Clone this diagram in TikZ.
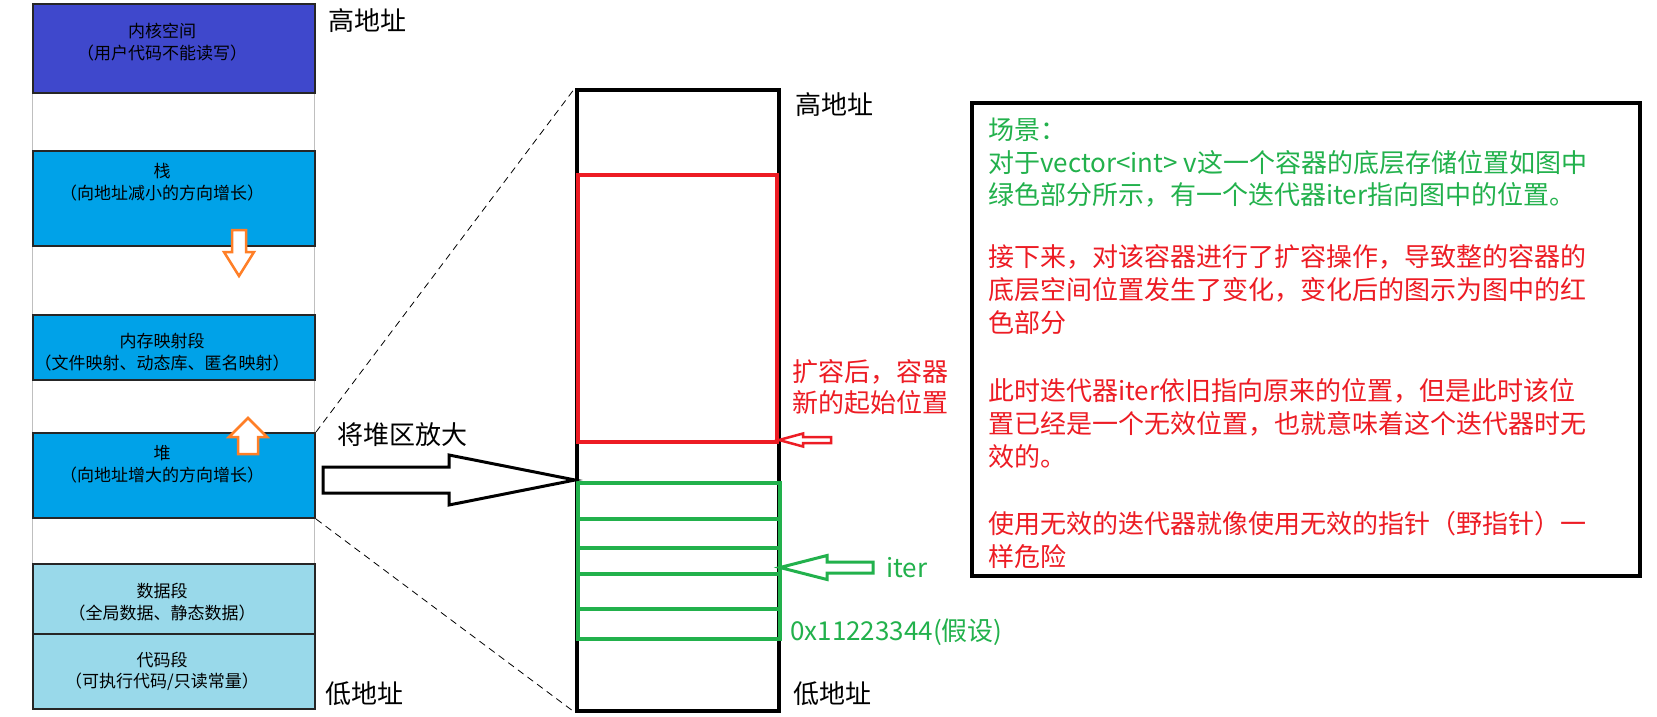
\documentclass[tikz,border=0pt]{standalone}
\usepackage{fontspec}
\setmainfont{Noto Sans CJK SC}
\usepackage{xcolor}
\usetikzlibrary{positioning,calc}
\definecolor{kernelcolor}{RGB}{63,72,204}
\definecolor{segcolor}{RGB}{0,162,232}
\definecolor{datacolor}{RGB}{153,217,234}
\definecolor{growcolor}{RGB}{255,127,39}
\definecolor{newcolor}{RGB}{237,28,36}
\definecolor{oldcolor}{RGB}{34,177,76}

% hollow block arrow: [style]{tail}{tip}{shaft half}{head half}{head length}
\newcommand{\blockarrow}[6][]{%
  \coordinate (ahbase) at ($(#3)!#6!(#2)$);
  \draw[#1] ($(#2)!#4!90:(#3)$) -- ($(ahbase)!#4!90:(#3)$) -- ($(ahbase)!#5!90:(#3)$)
    -- (#3) -- ($(ahbase)!#5!-90:(#3)$) -- ($(ahbase)!#4!-90:(#3)$) -- ($(#2)!#4!-90:(#3)$) -- cycle;
}

\begin{document}
\begin{tikzpicture}[
    x=1pt, y=-1pt,
    seg/.style={
        rectangle, draw=black!85, line width=2pt,
        anchor=north west, inner sep=0pt, minimum width=282pt
    },
    gap/.style={
        rectangle, draw=black!25, line width=1pt, fill=white,
        anchor=north west, inner sep=0pt, minimum width=282pt
    },
    cell/.style={
        rectangle, draw=oldcolor, line width=3.5pt,
        anchor=north west, inner sep=0pt, minimum width=202pt
    },
    seglabel/.style={align=center, inner sep=0pt, font=\fontsize{17}{21.5}\selectfont},
    addr/.style={anchor=west, inner sep=0pt, font=\fontsize{26}{30}\selectfont},
    para/.style={anchor=north west, align=left, inner sep=0pt, font=\fontsize{26}{32.8}\selectfont},
    zoomline/.style={dashed, dash pattern=on 7pt off 5pt, line width=0.8pt},
    growarrow/.style={draw=growcolor, line width=2.5pt, fill=white}
]

\fill[white] (0,0) rectangle (1657,717);
\useasboundingbox (0,0) rectangle (1657,717);

% Process address space
\node[gap, minimum height=58pt] (gap1) at (32,92) {};
\node[gap, minimum height=69pt] (gap2) at (32,245) {};
\node[gap, minimum height=53pt] (gap3) at (32,379) {};
\node[gap, minimum height=46pt] (gap4) at (32,517) {};

\node[seg, fill=kernelcolor, minimum height=89pt] (kernel) at (32,3) {};
\node[seg, fill=segcolor, minimum height=95pt] (stack) at (32,150) {};
\node[seg, fill=segcolor, minimum height=65pt] (mmap) at (32,314) {};
\node[seg, fill=segcolor, minimum height=85pt] (heap) at (32,432) {};
\node[seg, fill=datacolor, minimum height=70pt] (data) at (32,563) {};
\node[seg, fill=datacolor, minimum height=75pt] (code) at (32,633) {};

\node[seglabel] (kernel-text) at (162,42) {内核空间\\（用户代码不能读写）};
\node[seglabel] (stack-text) at (162,182) {栈\\（向地址减小的方向增长）};
\node[seglabel] (mmap-text) at (162,352) {内存映射段\\（文件映射、动态库、匿名映射）};
\node[seglabel] (heap-text) at (162,464) {堆\\（向地址增大的方向增长）};
\node[seglabel] (data-text) at (162,602) {数据段\\（全局数据、静态数据）};
\node[seglabel] (code-text) at (162,671.5) {代码段\\（可执行代码/只读常量）};

% Growth directions
\coordinate (stack-grow-tail) at (239,230);
\coordinate (stack-grow-tip) at (239,276);
\coordinate (heap-grow-tail) at (248,454);
\coordinate (heap-grow-tip) at (248,418);
\blockarrow[growarrow]{stack-grow-tail}{stack-grow-tip}{7pt}{15pt}{24pt}
\blockarrow[growarrow]{heap-grow-tail}{heap-grow-tip}{10pt}{19pt}{19pt}

\node[addr] (high-left) at (328,21) {高地址};
\node[addr] (low-left) at (325,694) {低地址};

% Zoomed heap
\node[rectangle, draw, line width=3.5pt, anchor=north west, inner sep=0pt,
      minimum width=202pt, minimum height=621pt] (zoomcol) at (575,88) {};
\node[rectangle, draw=newcolor, line width=3.5pt, anchor=north west, inner sep=0pt,
      minimum width=199pt, minimum height=267pt] (newblock) at (576,173) {};
\node[cell, minimum height=36pt] (cell1) at (576,481) {};
\node[cell, minimum height=29pt] (cell2) at (576,517) {};
\node[cell, minimum height=26pt] (cell3) at (576,546) {};
\node[cell, minimum height=35pt] (cell4) at (576,572) {};
\node[cell, minimum height=30pt] (cell5) at (576,607) {};

\draw[zoomline] (heap.north east) -- (zoomcol.north west);
\draw[zoomline] (heap.south east) -- (zoomcol.south west);

\node[addr] (zoom-label) at (337,435) {将堆区放大};
\coordinate (zoom-tail) at (323,480);
\coordinate (zoom-tip) at (zoom-tail -| zoomcol.west);
\blockarrow[draw=black, line width=3pt, fill=white]{zoom-tail}{zoom-tip}{13pt}{25pt}{126pt}

\node[addr] (high-right) at (795,105) {高地址};
\node[addr] (low-right) at (793,694) {低地址};

% Markers
\node[addr, anchor=north west, align=left, text=newcolor, font=\fontsize{26}{31}\selectfont]
    (new-label) at (792,359.5) {扩容后，容器\\新的起始位置};
\coordinate (new-tail) at (831,440);
\coordinate (new-tip) at (779,440);
\blockarrow[draw=newcolor, line width=2.5pt, fill=white]{new-tail}{new-tip}{3pt}{6.5pt}{24pt}

\node[addr, text=oldcolor] (iter-label) at (886,568) {iter};
\coordinate (iter-tail) at (873,567.5);
\coordinate (iter-tip) at (780,567.5);
\blockarrow[draw=oldcolor, line width=3pt, fill=white]{iter-tail}{iter-tip}{5.5pt}{12pt}{47pt}

\node[addr, text=oldcolor] (addr-label) at (790,632) {0x11223344(假设)};

% Explanation
\node[rectangle, draw, line width=3.5pt, anchor=north west, inner sep=0pt,
      minimum width=668pt, minimum height=473pt] (scene) at (970,101) {};
\node[para, text=oldcolor] (scene-p1) at (988,117.5) {场景：\\对于vector<int> v这一个容器的底层存储位置如图中\\绿色部分所示，有一个迭代器iter指向图中的位置。};
\node[para, text=newcolor] (scene-p2) at (988,244.5) {接下来，对该容器进行了扩容操作，导致整的容器的\\底层空间位置发生了变化，变化后的图示为图中的红\\色部分};
\node[para, text=newcolor] (scene-p3) at (988,378.5) {此时迭代器iter依旧指向原来的位置，但是此时该位\\置已经是一个无效位置，也就意味着这个迭代器时无\\效的。};
\node[para, text=newcolor] (scene-p4) at (988,511.5) {使用无效的迭代器就像使用无效的指针（野指针）一\\样危险};

\end{tikzpicture}
\end{document}
